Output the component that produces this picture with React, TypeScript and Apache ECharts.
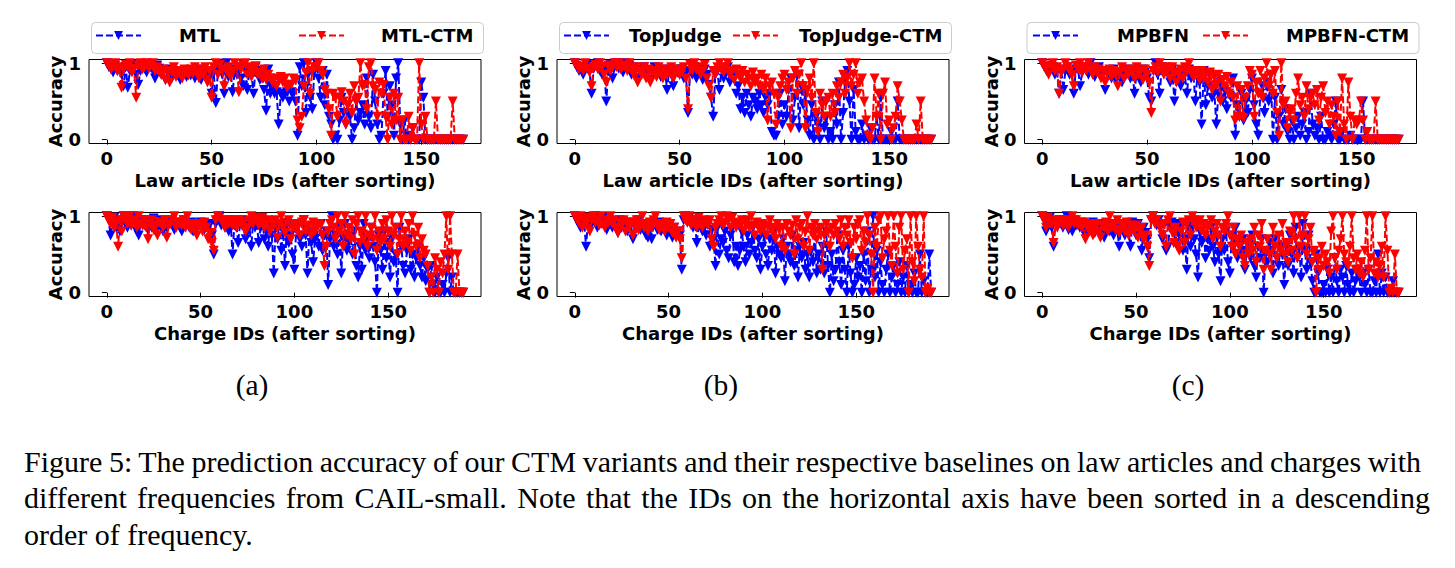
import React, { useEffect, useRef } from "react";
import * as echarts from "echarts";

// ---------------- data ----------------
const LAW_TICKS = [0, 50, 100, 150];
const CHARGE_TICKS = [0, 50, 100, 150];
const Y_TICKS = [0, 1];

// (a) MTL / MTL-CTM, law articles (ids 0..170)
const mtlLaw = [
  1, .95, .93, .88, .97, .9, .92, .85, .7, .95,
  .68, .9, .98, .95, .85, .72, .9, .97, .93, .88,
  .98, .95, .9, .8, .97, .93, .85, .9, .78, .88,
  .92, .8, .87, .9, .84, .78, .9, .86, .82, .88,
  .84, .9, .8, .86, .92, .78, .88, .84, .9, .82,
  .6, .88, .48, .9, .95, .86, .6, 1, .82, .92,
  .62, .9, .85, .95, .8, .7, .93, .65, .9, .85,
  .6, .95, .9, .78, .85, .65, .38, .92, .6, .7,
  .6, .62, .2, .6, .55, .6, .62, .5, .62, .6,
  .5, .05, .95, .7, 1, .35, .85, .55, .4, .9,
  1, .8, .55, .9, .45, .85, .3, .2, 0, .05,
  0, .25, .55, .35, .2, .45, .3, 0, .15, .5,
  .25, .35, .45, .2, .8, .3, .15, .85, .5, .2,
  0, .05, .6, .9, .3, .7, .45, .05, .8, 1,
  .2, 0, .25, .05, 0, 0, .15, 0, 0, 0,
  .75, .55, 0, 0, 0, 0, 0, 0, 0, 0,
  0, 0, 0, 0, 0, 0, 0, 0, 0, 0, 0,
];
const mtlCtmLaw = [
  1, .97, .92, .95, 1, .9, .95, .68, .92, .98,
  .95, 1, .88, .93, .55, .97, 1, .92, .95, 1,
  .93, .97, 1, .9, .95, .88, .85, .92, .78, .9,
  .75, .88, .95, .82, .9, .85, .8, .92, .88, .84,
  .92, .86, .95, .88, .8, .92, .85, .95, .75, .9,
  .55, .95, 1, .85, .98, .92, .7, .9, .95, .82,
  .9, 1, .95, .62, .92, .98, 1, .85, .95, .82,
  .9, .96, .85, .88, .8, .92, .78, .85, .8, .75,
  .8, .7, .78, .82, .75, .8, .68, .72, .72, .8,
  .78, .25, .15, .3, .7, .88, 1, .6, .9, .95,
  .95, 1, .9, .85, .65, .6, .4, .05, .6, .55,
  .3, .55, .62, .5, .2, .45, .6, .35, .7, .5,
  .55, 1, .7, .72, .4, .95, 1, .7, .65, .3,
  .75, .6, .72, .3, 0, .55, .2, .6, .25, .55,
  0, .25, 0, 0, .3, 0, .15, 0, 0, 1,
  .2, 0, .3, 0, 0, 0, 0, .5, 0, 0,
  0, 0, 0, 0, 0, .5, 0, 0, 0, 0, 0,
];
// (a) charges (ids 0..190)
const mtlCharge = [
  1, .95, .75, .9, .98, .85, .95, .8, .92, 1,
  .9, .85, .95, .88, 1, .92, .8, .75, .95, .9,
  .88, .95, .82, .9, .85, .97, .8, .9, .88, .95,
  .8, .92, .85, .9, .95, .88, .82, .92, .9, .85,
  .8, .95, .88, .9, .85, .92, .8, .9, .85, .88,
  .92, .9, .82, .88, .85, .9, .75, .5, .9, .95,
  1, .88, .92, .85, .9, .8, .95, .5, .88, .92,
  .65, .9, .95, .85, .7, .8, .88, .6, .92, .85,
  .9, .65, .85, .95, .7, .8, .6, .9, .75, .25,
  .85, .7, .9, .55, .8, .35, .88, .65, .75, .5,
  .3, .85, .9, .7, .6, .95, .75, .25, .8, .65,
  .4, .7, .85, .6, .9, .55, .75, .8, .1, .7,
  1, .6, .75, .5, .85, .25, .7, .9, .55, .65,
  .75, .5, .8, .35, .2, .6, .3, .9, .55, .7,
  .45, .85, .6, .4, 0, .75, .55, .3, .8, .45,
  .65, .2, .7, .4, .5, 0, .85, .6, .35, .25,
  .55, .7, .3, .5, .2, .45, .6, .35, .2, .45,
  .15, .3, 0, .35, .1, 0, .2, 0, 0, .1,
  0, .25, .45, 0, .2, 0, 0, 0, 0, 0, 0,
];
const mtlCtmCharge = [
  1, .95, .9, .98, .85, .92, .6, .95, .8, 1,
  .95, .9, 1, .88, .95, .92, .85, 1, .9, .88,
  .95, .85, .7, .9, .95, .82, .88, .75, .92, .9,
  .85, .95, .72, .88, .9, .95, 1, .85, .92, .9,
  .88, .95, .85, 1, .9, .82, .9, .85, .75, .9,
  .88, .8, .92, .85, .7, .78, .65, .55, .95, 1,
  .98, .95, .9, .85, .95, .9, .92, .88, .95, .85,
  .9, .95, .88, .92, .8, .85, .95, 1, .9, .98,
  .95, .88, .92, .98, .85, .9, .95, .8, .92, .88,
  .95, .72, .9, 1, .85, .78, .92, .95, .7, .85,
  .9, .82, .88, .75, .92, .95, .8, .85, .88, .75,
  .92, .8, .85, .9, .88, .75, .35, .6, .8, .9,
  .95, .85, .7, 1, .8, .9, .6, 1, .75, .85,
  .7, .95, .5, .9, 1, .65, .8, .7, 1, .6,
  .75, .85, .7, 1, .55, .8, .65, .9, .7, .95,
  .8, .6, 1, .75, .85, .5, .7, 1, .6, .8,
  .65, .9, .55, 1, .75, .6, .85, .45, .7, .55,
  .5, .35, 0, .2, 0, .45, .3, 0, .4, .25,
  .5, 1, .3, 1, .5, 0, 0, .5, 0, 0, 0,
];

// (b) TopJudge / TopJudge-CTM
const tjLaw = [
  1, .95, .9, .92, .85, .95, .98, .9, .6, .93,
  .97, 1, .9, .85, .95, .5, .92, .98, .8, .95,
  1, .93, .95, .88, 1, .92, .97, .85, .95, .9,
  .8, .92, .88, .95, .82, .9, .78, .88, .95, .85,
  .9, .82, .88, .92, .65, .9, .85, .7, .92, .88,
  .85, .92, .8, .88, .35, .9, .85, .95, .8, .9,
  .88, .78, .92, .85, .72, .55, .3, .85, .9, .65,
  .92, .8, .88, .95, .75, .9, .85, .6, .7, .4,
  .55, .35, .6, .45, .3, .55, .5, .4, .6, .45,
  .35, .55, .45, .6, .1, .05, .05, .3, .6, .2,
  .45, .3, .65, .8, .25, .55, .85, .15, .7, .45,
  .6, .25, .05, .45, 0, .3, .2, 0, .5, .15,
  .3, 0, .1, 0, .45, .2, .75, 0, .35, .8,
  .9, .5, 0, .65, .1, 0, 0, .2, 0, .05,
  0, .15, 0, 0, .3, 0, .55, 0, 0, 0,
  0, .1, 0, 0, .5, 0, 0, 0, 0, 0,
  0, 0, 0, 0, 0, 0, 0, 0, 0, 0, 0,
];
const tjCtmLaw = [
  1, .97, .92, .95, .9, 1, .93, .88, .7, .95,
  .98, .92, 1, .95, .85, .75, .97, .9, .95, 1,
  .95, 1, .92, .97, .95, .9, 1, .92, .85, .95,
  .75, .9, .85, .95, .8, .92, .75, .88, .9, .82,
  .95, .88, .8, .92, .85, .9, .95, .8, .88, .92,
  .85, .9, .95, .8, .4, .98, .9, 1, .92, .95,
  .85, .9, .98, .8, .7, .55, .9, .85, .95, 1,
  .92, .88, .95, 1, .85, .9, .78, .92, .85, .8,
  .9, .75, .85, .8, .7, .88, .75, .8, .7, .85,
  .65, .8, .25, .7, .75, .6, .2, .55, .7, .8,
  .85, .65, .75, .15, .8, .9, .6, .85, 1, .7,
  .15, .65, .8, .55, 1, .35, .1, .6, .45, .3,
  .5, .55, .3, .6, .35, .7, .55, .75, .85, .6,
  .8, 1, .7, .85, 1, .6, .75, .8, .5, .25,
  .05, 0, .15, .8, .3, .6, 0, .6, .75, .2,
  .25, 0, .15, .3, .7, .5, .25, 0, 0, 0,
  0, 0, 0, .2, 0, .5, 0, 0, 0, 0, 0,
];
const tjCharge = [
  1, .95, .9, .85, .98, .92, .6, .95, .88, .9,
  .95, 1, .85, .92, .9, .98, .88, .82, .95, .9,
  .85, .92, .88, .78, .95, .85, .9, .82, .8, .92,
  .88, .7, .9, .85, .95, .82, .88, .9, .75, .72,
  .85, .7, .9, .88, .82, .92, .8, .85, .9, .75,
  .88, .8, .72, .85, .78, .8, .75, .3, .95, 1,
  .92, .98, .9, .85, .95, .65, .88, .92, .8, .85,
  .75, .9, .6, .82, .7, .35, .85, .5, .7, .65,
  .8, .55, .45, .75, .85, .4, .6, .35, .55, .8,
  .6, .4, .75, .5, .65, .85, .55, .45, .7, .3,
  .6, .75, .5, .35, .7, .55, .8, .25, .6, .5,
  .45, .7, .15, .6, .5, .4, .75, .35, .55, .2,
  .6, .45, .65, .3, .5, .2, .55, .4, .8, .25,
  .5, .3, .6, .25, .8, .35, 0, .5, .15, .3,
  .75, .4, .1, .55, .3, 0, .6, .25, 0, .1,
  .45, .2, .35, 0, .5, .15, .8, 0, .3, 1,
  .2, .55, 0, .4, .1, 0, .3, .5, 0, .2,
  .35, 0, .1, .4, 0, .2, 0, .35, 0, .1,
  0, .25, 0, 0, .5, 0, .15, 0, 0, .5, 0,
];
const tjCtmCharge = [
  1, .97, .92, 1, .85, .95, .9, .98, .8, .95,
  1, .92, .95, .88, 1, .9, .85, .95, .92, 1,
  .9, .95, .85, .78, .92, .88, .95, .8, .9, .85,
  .92, .75, .88, .95, .82, .9, 1, .85, .9, .8,
  .92, .85, .95, 1, .88, .82, .9, .85, .8, .92,
  .85, .9, .78, .85, .72, .8, .7, .45, 1, .95,
  .92, 1, .88, .95, .9, .85, .98, .9, .85, .95,
  .92, .88, .95, .7, .6, .85, .9, .95, 1, .88,
  .92, 1, .95, .85, .98, .9, .85, .92, .88, .95,
  .8, .9, .95, .85, 1, .88, .75, .92, .85, .8,
  .9, .85, .75, .88, .95, .8, .85, .7, .9, .82,
  .6, .85, .55, .9, .8, .75, .88, .5, .95, .7,
  .85, .9, .6, .8, 1, .55, .85, .75, .9, .7,
  .8, .85, .3, .75, .9, .8, .6, .85, .75, .9,
  .8, .7, .95, .6, .85, .75, .95, .65, .45, .85,
  .7, .9, .95, .55, .8, .65, 1, .75, .5, 0,
  .85, .6, .95, 1, .45, .7, .8, 1, .55, .35,
  1, .6, .25, .85, 1, .3, .55, .7, 0, 1,
  .4, .15, 1, .6, .3, .2, 1, 0, .05, 0, 0,
];

// (c) MPBFN / MPBFN-CTM
const mpLaw = [
  1, .95, .9, .88, .92, .95, .85, .9, .6, .92,
  .65, .9, .95, .85, .9, .6, .92, .95, .7, .88,
  .95, .9, .85, 1, .92, .82, .9, .95, .88, .85,
  .65, .9, .85, .8, .92, .78, .88, .82, .75, .9,
  .85, .92, .8, .88, .6, .9, .85, .75, .92, .88,
  .8, .55, .5, .9, 1, .85, .6, .95, .88, .9,
  .85, .75, .92, .5, .8, .88, .7, .9, .85, .6,
  .92, .8, .88, .5, .85, .75, .2, .9, .45, .7,
  .85, .55, .65, .2, .6, .75, .5, .65, .4, .6,
  .55, .8, .05, .45, .3, .6, .25, .5, .35, .65,
  .8, .45, .2, .05, .6, .7, .35, .75, .5, .85,
  0, .55, 0, .3, .65, .2, .4, .1, 0, .25,
  0, .15, .3, .05, .2, .35, 0, .1, .6, .2,
  .05, .15, 0, .3, 0, 0, .1, .05, 0, .2,
  .5, 0, 0, .1, 0, 0, 0, .05, 0, 0,
  0, 0, 0, .5, 0, 0, 0, 0, 0, 0,
  0, 0, 0, 0, 0, 0, 0, 0, 0, 0, 0,
];
const mpCtmLaw = [
  1, .95, .92, .85, .97, 1, .9, .95, .6, .88,
  .92, 1, .95, .9, .85, .7, .97, .92, 1, .88,
  .95, .9, 1, .92, .85, .95, .88, .92, .8, .9,
  .75, .88, .92, .82, .9, .85, .7, .88, .95, .8,
  .9, .85, .92, .88, .8, .95, .85, .9, .78, .92,
  .85, .75, .35, .9, .95, .88, 1, .92, .85, .95,
  .9, .8, .95, .88, .75, .85, .92, .8, .95, .9,
  1, .88, .82, .9, .85, .78, .9, .8, .85, .75,
  .88, .65, .82, .72, .85, .5, .78, .7, .82, .6,
  .75, .55, .25, .7, .3, .65, .28, .55, .7, .9,
  .85, .3, .75, .6, .9, .55, .8, 1, .7, .85,
  .6, .9, .35, .05, 1, .45, .5, .15, .35, .4,
  .25, .6, .8, .45, .55, .3, .7, .4, .55, .6,
  .45, .65, .25, .55, .7, .35, .5, .2, .45, .3,
  .05, .5, .1, .8, .2, 0, .75, .3, 0, .25,
  .2, .25, .5, .25, 0, .1, 0, 0, 0, .5,
  0, 0, 0, 0, 0, 0, 0, 0, 0, 0, 0,
];
const mpCharge = [
  1, .95, .8, .9, .98, .85, .6, .92, .88, .95,
  .9, .85, .95, 1, .82, .9, .8, .95, .88, .9,
  .85, .92, .8, .75, .9, .85, .82, .92, .78, .85,
  .9, .8, .88, .72, .85, .9, .8, .88, .75, .9,
  .82, .6, .85, .9, .75, .88, .8, .6, .92, .85,
  .75, .9, .82, .55, .85, .78, .7, .45, .95, 1,
  .92, .88, .95, .85, .7, .9, .55, .6, .85, .92,
  .8, .65, .9, .75, .85, .55, .7, .3, .85, .6,
  .9, .7, .5, .2, .8, .65, .9, .45, .7, .55,
  .85, .6, .4, .75, .5, .15, .7, .55, .8, .4,
  .25, .75, .6, .85, .45, .65, .5, .7, .3, .55,
  .6, .45, .75, .35, .2, .6, .45, .7, 0, .5,
  .4, .65, .55, .25, .7, .45, .35, .6, .5, .1,
  .6, .35, .75, .5, .25, .85, .45, .6, .2, .9,
  .55, .3, .75, .4, .15, 0, .5, .25, 0, 0,
  .1, 0, .3, 0, .2, 0, .45, .15, 0, .3,
  .2, 0, .35, .1, 0, .25, 0, .15, .3, .2,
  0, .25, .1, 0, .3, 0, 0, .15, 0, .5,
  0, .25, 0, .2, 0, 0, 0, .15, 0, 0, 0,
];
const mpCtmCharge = [
  1, .95, .85, .98, .9, .92, .65, .95, .85, .92,
  .95, .88, .9, .95, .85, .92, 1, .9, .95, .88,
  .9, .85, .92, .7, .88, .8, .9, .75, .85, .9,
  .8, .72, .88, .85, .92, .8, 1, .85, .9, .82,
  .95, .78, .9, .85, .8, .92, .75, .88, .85, .8,
  .88, .72, .8, .85, .7, .75, .6, .35, .95, 1,
  .9, .95, .88, .85, .75, .9, .6, .95, 1, .8,
  .65, .85, .6, .55, .8, .92, .65, .9, .95, .75,
  1, .95, .85, .9, .95, .8, .9, .75, .85, .88,
  .95, .7, .8, .9, .75, .6, .85, .8, .9, 1,
  .75, .6, .85, .5, .7, .6, .75, .45, .35, .65,
  .5, .7, .55, .85, .4, .75, .6, .9, .3, .55,
  .7, .5, .3, .85, .6, .45, .75, .55, .9, .5,
  .65, .4, .8, .55, 1, .7, .45, 1, .6, .75,
  1, .5, .7, .85, .4, .55, 0, .45, .3, .6,
  .35, .5, .4, .25, .8, 1, .45, .3, .55, .7,
  1, .5, .4, .35, .6, 1, .45, .3, .5, .25,
  .4, .2, .55, 1, .3, .45, 1, .25, .4, .2,
  .35, .6, .2, 1, .55, 0, .05, 0, .5, 0, 0,
];

const COLUMNS = [
  { names: ["MTL", "MTL-CTM"], law: [mtlLaw, mtlCtmLaw], charge: [mtlCharge, mtlCtmCharge], tag: "(a)" },
  { names: ["TopJudge", "TopJudge-CTM"], law: [tjLaw, tjCtmLaw], charge: [tjCharge, tjCtmCharge], tag: "(b)" },
  { names: ["MPBFN", "MPBFN-CTM"], law: [mpLaw, mpCtmLaw], charge: [mpCharge, mpCtmCharge], tag: "(c)" },
];

const CAPTION = [
  "Figure 5: The prediction accuracy of our CTM variants and their respective baselines on law articles and charges with",
  "different frequencies from CAIL-small. Note that the IDs on the horizontal axis have been sorted in a descending",
  "order of frequency.",
];

// ---------------- layout / style ----------------
const COL_LEFT = [89, 557, 1024.5];
const GRID_W = 392;
const GRID_H = 84;
const LAW_TOP = 59.5;
const CHARGE_TOP = 212.5;
const LEG_X = [[95, 298], [563, 732], [1032, 1202]];
const LEG_PAD = [[33, 32], [15, 16], [34, 33]];
const TAG_X = [252, 721, 1188];
const CAPTION_X = 24;
const CAPTION_Y = [461.6, 497.9, 534.2];
const CAPTION_RIGHT = [1421, 1430, 0]; // 0 = not justified
const COLORS = ["#0000ff", "#ff0000"];
const SANS = "DejaVu Sans";
const SERIF = "Liberation Serif";
const CAP_FONT = 30;
const TAG_FONT = 29.5;
const TRI = "path://M0,0L10,0L5,10Z";

function buildOption() {
  const grid: any[] = [];
  const xAxis: any[] = [];
  const yAxis: any[] = [];
  const series: any[] = [];
  const legend: any[] = [];
  const graphic: any[] = [];
  const txt = { fontFamily: SANS, fontWeight: "bold", fontSize: 18, color: "#000" };

  COLUMNS.forEach((col, c) => {
    const rows = [
      { top: LAW_TOP, data: col.law, ticks: LAW_TICKS, name: "Law article IDs (after sorting)" },
      { top: CHARGE_TOP, data: col.charge, ticks: CHARGE_TICKS, name: "Charge IDs (after sorting)" },
    ];
    rows.forEach((r) => {
      const g = grid.length;
      const n = r.data[0].length - 1;
      grid.push({
        left: COL_LEFT[c], top: r.top, width: GRID_W, height: GRID_H,
        show: true, borderColor: "#000", borderWidth: 1, backgroundColor: "transparent",
        containLabel: false,
      });
      xAxis.push({
        type: "value", gridIndex: g, min: -0.05 * n, max: 1.05 * n,
        name: r.name, nameLocation: "middle", nameGap: 28, nameTextStyle: txt,
        axisLine: { show: false }, splitLine: { show: false },
        axisTick: { show: true, inside: false, length: 5, customValues: r.ticks, lineStyle: { color: "#000", width: 1 } },
        axisLabel: { customValues: r.ticks, margin: 6, ...txt },
      });
      yAxis.push({
        type: "value", gridIndex: g, min: -0.05, max: 1.05,
        name: "Accuracy", nameLocation: "middle", nameRotate: 90, nameGap: 22, nameTextStyle: txt,
        axisLine: { show: false }, splitLine: { show: false },
        axisTick: { show: true, inside: false, length: 5, customValues: Y_TICKS, lineStyle: { color: "#000", width: 1 } },
        axisLabel: { customValues: Y_TICKS, margin: 8, ...txt },
      });
      r.data.forEach((arr, k) => {
        series.push({
          type: "line", name: col.names[k], xAxisIndex: g, yAxisIndex: g,
          data: arr.map((v, i) => [i, v]),
          symbol: TRI, symbolSize: 10, showAllSymbol: true,
          lineStyle: { color: COLORS[k], width: 2, type: [7, 3] },
          itemStyle: { color: COLORS[k], borderWidth: 0 },
          emphasis: { disabled: true },
          z: 2 + k,
        });
      });
    });

    col.names.forEach((nm, k) => {
      legend.push({
        data: [nm], left: LEG_X[c][k], top: 26.5, padding: 0,
        itemWidth: 45, itemHeight: 11, selectedMode: false,
        textStyle: { ...txt, padding: [0, 0, 0, LEG_PAD[c][k]] },
      });
    });
    graphic.push({
      type: "rect", left: COL_LEFT[c], top: 20, silent: true, z: 0,
      shape: { width: GRID_W, height: 31, r: 4 },
      style: { fill: "none", stroke: "#cccccc", lineWidth: 1 },
    });
    graphic.push({
      type: "text", x: TAG_X[c], y: 384.5, silent: true,
      style: { text: col.tag, font: `${TAG_FONT}px "${SERIF}"`, fill: "#000", textAlign: "center", textVerticalAlign: "middle" },
    });
  });

  CAPTION.forEach((line, i) => {
    graphic.push({
      type: "text", x: CAPTION_X, y: CAPTION_Y[i], silent: true,
      style: { text: line, font: `${CAP_FONT}px "${SERIF}"`, fill: "#000", textAlign: "left", textVerticalAlign: "middle" },
    });
  });

  return {
    animation: false,
    backgroundColor: "#ffffff",
    grid, xAxis, yAxis, series, legend, graphic,
  };
}

// spread (or tighten) the words of the justified caption lines to their right margin
function justifyCaption(root: HTMLElement) {
  const texts = Array.from(root.querySelectorAll("text")) as SVGTextElement[];
  CAPTION.forEach((line, i) => {
    const right = CAPTION_RIGHT[i];
    if (!right) return;
    const el = texts.find((t) => t.textContent === line);
    if (!el) return;
    const w = el.getComputedTextLength();
    const spaces = line.split(" ").length - 1;
    const extra = (right - CAPTION_X - w) / spaces;
    el.setAttribute("word-spacing", extra.toFixed(2));
  });
}

export default function App() {
  const ref = useRef<HTMLDivElement>(null);
  useEffect(() => {
    if (!ref.current) return;
    const chart = echarts.init(ref.current, undefined, { renderer: "svg" });
    chart.setOption(buildOption() as any);
    justifyCaption(ref.current);
    return () => chart.dispose();
  }, []);
  return (
    <div
      ref={ref}
      style={{ position: "fixed", left: 0, top: 0, width: 1455, height: 568, background: "#fff" }}
    />
  );
}
